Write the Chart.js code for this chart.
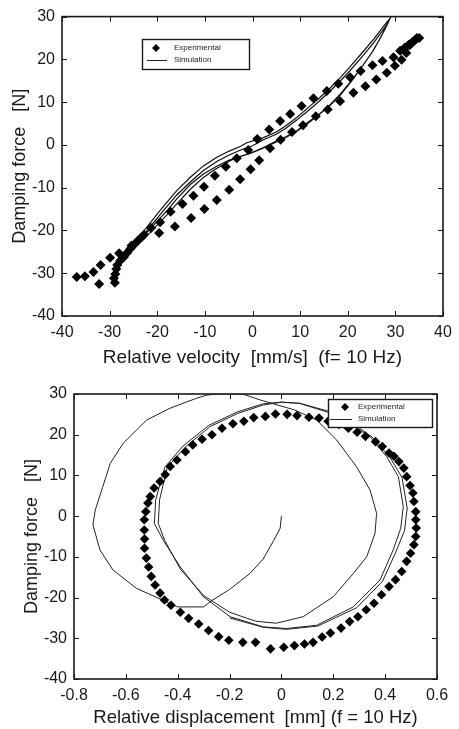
<!DOCTYPE html>
<html><head><meta charset="utf-8">
<script src="https://cdn.jsdelivr.net/npm/chart.js@4.4.1/dist/chart.umd.min.js"></script>
<style>
html,body{margin:0;padding:0;background:#fff;width:459px;height:729px;overflow:hidden}
#c1{position:absolute;left:0;top:0;width:459px;height:380px}
#c2{position:absolute;left:0;top:365px;width:459px;height:364px}
</style></head><body>
<canvas id="c1" width="459" height="380"></canvas>
<canvas id="c2" width="459" height="364"></canvas>
<script>
// ---------- Chart 1: force vs velocity ----------
const velTicks = [-40,-30,-20,-10,0,10,20,30,40];
const force1Ticks = [-40,-30,-20,-10,0,10,20,30];
const expVel = [-36.9,-35.2,-33.4,-31.9,-29.9,-28.0,-25.4,-23.3,-19.6,-16.3,-12.9,-10.1,-7.5,-4.9,-2.6,-0.4,1.4,3.7,5.9,8.3,10.6,13.3,15.8,18.4,21.2,23.7,26.0,28.2,29.9,31.3,32.3,
  -19.4,-17.2,-14.7,-12.4,-10.2,-7.9,-5.6,-3.3,-0.9,1.0,3.5,5.8,7.9,10.3,12.8,15.6,18.0,20.5,22.7,25.2,27.3,29.6,31.7,33.0,33.6,34.2,34.5,
  31.0,32.0,32.8,33.5,34.2,35.0,
  -32.2,-28.9,-29.1,-28.8,-28.6,-28.4,-27.8,-27.0,-26.3,-25.6,-24.8,-24.0,-22.8,-21.3];
const expForce = [-30.9,-30.7,-29.7,-28.1,-26.4,-25.3,-23.5,-21.6,-20.6,-19.1,-17.1,-15.0,-12.9,-10.5,-8.0,-5.7,-3.6,-0.8,1.2,3.0,4.6,6.7,8.3,10.2,12.2,13.7,15.3,16.9,18.5,19.9,21.5,
  -18.1,-15.6,-13.8,-11.9,-9.8,-7.2,-5.1,-3.1,-1.2,1.4,3.6,5.6,7.2,9.1,10.9,12.6,14.3,15.8,17.3,18.6,19.6,20.5,22.3,23.3,24.0,24.6,25.0,
  22.0,22.8,23.4,24.0,24.6,25.0,
  -32.5,-32.2,-31.2,-30.2,-29.0,-28.1,-27.1,-26.2,-25.2,-24.2,-23.2,-22.3,-21.0,-19.4];
const simVel = [-29.2,-28.5,-26.0,-23.3,-21.3,-19.4,-17.5,-15.9,-13.0,-10.3,-7.5,-5.0,-2.5,-1.2,2.3,5.0,7.0,9.3,12.0,14.0,16.3,18.5,20.5,23.3,25.5,27.5,28.9,
  27.3,25.5,23.3,21.0,18.5,16.3,14.0,12.0,9.3,7.0,5.0,2.3,0.0,-1.2,-3.5,-6.0,-8.0,-10.3,-13.0,-15.9,-17.8,-19.4,-21.5,-23.3,-26.0,-28.0,-29.2,
  -28.2,-26.0,-23.3,-21.3,-19.4,-17.5,-15.9,-13.0,-10.3,-7.5,-5.0,-2.5,0.0,2.3,5.0,7.0,9.3,12.0,14.0,16.3,18.5,20.5,23.3,25.5,27.5,28.6,
  27.0,25.2,23.0,20.8,18.4,16.1,13.8,11.8,9.1,6.8,4.8,2.1,-0.2,-2.5,-5.0,-7.5,-10.3,-13.0,-15.9,-17.8,-19.4,-21.5,-23.3,-26.0,-28.0,-29.0];
const simForce = [-31.6,-27.0,-23.8,-20.8,-18.0,-15.3,-12.8,-10.7,-7.5,-4.9,-2.9,-1.5,-0.3,0.5,1.7,3.0,4.5,6.4,9.0,10.9,13.3,15.8,18.3,21.9,24.8,27.7,29.6,
  26.0,22.3,18.8,15.3,12.0,9.4,7.2,5.6,3.3,1.9,0.9,-0.6,-1.7,-2.2,-3.0,-4.5,-5.8,-7.6,-10.3,-13.8,-16.2,-18.0,-20.5,-22.5,-25.5,-28.3,-31.6,
  -28.0,-24.5,-21.6,-18.9,-16.3,-13.8,-11.7,-8.6,-6.0,-3.9,-2.4,-1.2,-0.2,1.2,2.5,3.9,5.8,8.3,10.2,12.6,15.0,17.4,21.0,24.0,27.0,28.8,
  25.3,21.8,18.3,14.9,11.6,9.0,6.9,5.2,3.0,1.6,0.6,-0.8,-1.9,-2.7,-3.6,-5.0,-6.8,-9.2,-12.6,-15.2,-17.1,-19.7,-21.8,-24.8,-27.6,-31.0];

// ---------- Chart 2: force vs displacement ----------
const dispTicks = [-0.8,-0.6,-0.4,-0.2,0,0.2,0.4,0.6];
const force2Ticks = [-40,-30,-20,-10,0,10,20,30];
const expDisp = [-0.023,-0.062,-0.107,-0.145,-0.187,-0.229,-0.268,-0.306,-0.342,-0.370,-0.403,-0.429,-0.448,-0.468,-0.491,-0.506,-0.515,-0.523,-0.529,-0.529,-0.528,-0.528,-0.521,-0.512,-0.502,-0.487,-0.468,-0.451,-0.426,-0.390,-0.358,-0.319,-0.281,-0.242,-0.203,-0.149,-0.100,-0.042,0.009,0.050,0.089,0.122,0.157,0.189,0.230,0.263,0.295,0.327,0.357,0.386,0.415,0.440,0.464,0.483,0.498,0.511,0.518,0.520,0.518,0.518,0.511,0.507,0.496,0.483,0.472,0.453,0.434,0.415,0.389,0.363,0.324,0.292,0.258,0.222,0.180,0.145,0.106,0.060,0.022];
const expForce2 = [25.1,24.5,24.2,23.3,22.7,21.6,20.0,18.9,17.5,15.8,13.8,12.2,10.2,8.5,6.9,4.8,3.2,1.1,-0.9,-3.4,-5.6,-7.9,-10.3,-12.5,-14.8,-16.9,-18.9,-20.6,-21.9,-23.6,-25.1,-26.5,-28.1,-29.6,-30.5,-31.0,-31.0,-32.6,-32.2,-31.8,-31.4,-31.0,-29.7,-28.7,-27.5,-25.9,-24.7,-23.0,-21.4,-19.3,-17.3,-15.6,-13.6,-11.1,-9.1,-7.0,-5.0,-2.9,-0.9,1.1,3.6,5.7,7.5,9.7,11.8,13.4,14.7,15.5,17.1,18.3,19.6,20.6,21.6,22.5,23.3,24.1,24.3,24.7,25.0];
const simDisp = [0.0,-0.005,-0.03,-0.07,-0.12,-0.20,-0.27,-0.30,-0.40,-0.46,-0.56,-0.65,-0.70,-0.727,-0.718,-0.69,-0.66,-0.61,-0.52,-0.43,-0.33,-0.29,-0.25,-0.15,-0.08,0.05,0.136,0.213,0.29,0.342,0.367,0.361,0.329,0.277,0.20,0.084,-0.02,
  -0.10,-0.20,-0.30,-0.39,-0.45,-0.475,-0.47,-0.44,-0.37,-0.275,-0.17,-0.07,0.0,0.07,0.175,0.264,0.342,0.406,0.451,0.47,0.46,0.431,0.38,0.277,0.136,0.02,-0.07,
  -0.198,-0.301,-0.391,-0.456,-0.49,-0.485,-0.45,-0.38,-0.28,-0.17,-0.07,0.0,0.072,0.18,0.275,0.355,0.42,0.465,0.485,0.475,0.44,0.39,0.29,0.14,0.02,-0.07,-0.20];
const simForce2 = [0.0,-3.0,-6.0,-10.5,-14.0,-18.0,-20.8,-22.3,-22.3,-20.6,-17.7,-13.2,-8.3,-2.1,1.5,7.0,13.0,17.9,23.6,26.5,28.9,29.7,30.0,30.0,28.5,26.1,23.6,18.7,12.1,6.4,0.7,-4.2,-10.0,-14.1,-19.8,-24.7,-26.3,
  -25.8,-23.6,-19.5,-13.0,-6.0,-1.8,4.0,12.0,17.0,22.0,25.2,27.3,28.0,27.7,25.6,22.8,19.5,14.6,9.7,2.3,-3.0,-8.3,-15.7,-22.3,-26.8,-27.6,-27.2,
  -24.7,-19.8,-12.4,-5.9,-1.8,4.0,12.0,17.2,22.3,25.6,27.6,28.0,27.7,25.8,22.8,19.2,14.3,9.5,2.0,-3.5,-9.0,-16.0,-22.5,-27.0,-27.8,-27.3,-25.0];

const zip = (xs, ys) => xs.map((v, i) => ({x: v, y: ys[i]}));
const FONT = "'Liberation Sans', Arial, sans-serif";
const INK = '#1a1a1a';

const frameTicks = {
  id: 'frameTicks',
  afterDatasetsDraw(chart, args, o) {
    const {ctx, chartArea: a, scales: {x, y}} = chart;
    ctx.save();
    ctx.strokeStyle = INK;
    ctx.lineWidth = 1;
    ctx.beginPath();
    x.ticks.forEach(t => {
      const p = Math.round(x.getPixelForValue(t.value)) + 0.5;
      ctx.moveTo(p, a.bottom); ctx.lineTo(p, a.bottom - o.len);
      ctx.moveTo(p, a.top); ctx.lineTo(p, a.top + o.len);
    });
    y.ticks.forEach(t => {
      const p = Math.round(y.getPixelForValue(t.value)) + 0.5;
      ctx.moveTo(a.left, p); ctx.lineTo(a.left + o.len, p);
      ctx.moveTo(a.right, p); ctx.lineTo(a.right - o.len, p);
    });
    ctx.stroke();
    ctx.lineWidth = 1.6;
    ctx.strokeRect(a.left, a.top, a.right - a.left, a.bottom - a.top);
    ctx.restore();
  }
};

const boxLegend = {
  id: 'boxLegend',
  afterDatasetsDraw(chart, args, o) {
    const ctx = chart.ctx, ds = chart.data.datasets;
    ctx.save();
    ctx.fillStyle = '#fff';
    ctx.fillRect(o.x, o.y, o.w, o.h);
    ctx.strokeStyle = INK; ctx.lineWidth = 1.4;
    ctx.strokeRect(o.x + 0.5, o.y + 0.5, o.w, o.h);
    const dx = o.markX, dy = o.row1, r = 4;
    ctx.fillStyle = '#000';
    ctx.beginPath();
    ctx.moveTo(dx, dy - r); ctx.lineTo(dx + r, dy); ctx.lineTo(dx, dy + r); ctx.lineTo(dx - r, dy); ctx.closePath();
    ctx.fill();
    ctx.strokeStyle = '#222'; ctx.lineWidth = 1;
    ctx.beginPath(); ctx.moveTo(o.lineX0, o.row2 + 0.5); ctx.lineTo(o.lineX1, o.row2 + 0.5); ctx.stroke();
    ctx.fillStyle = '#222';
    ctx.font = '8px ' + FONT;
    ctx.textBaseline = 'middle';
    ctx.fillText(ds[0].label, o.textX, o.row1);
    ctx.fillText(ds[1].label, o.textX, o.row2);
    ctx.restore();
  }
};

function makeChart(id, cfg) {
  const tickFont = {family: FONT, size: 16};
  return new Chart(document.getElementById(id), {
    type: 'scatter',
    data: {
      datasets: [
        {label: 'Experimental', data: cfg.exp, backgroundColor: '#000', borderColor: '#000',
         pointStyle: 'rectRot', pointRadius: cfg.markR, pointBorderWidth: 0, showLine: false, order: 1},
        {label: 'Simulation', data: cfg.sim, borderColor: cfg.lineColor, borderWidth: cfg.lineW, pointRadius: 0,
         showLine: true, tension: 0, fill: false, order: 2}
      ]
    },
    options: {
      responsive: false, animation: false,
      layout: {padding: cfg.padding},
      plugins: {legend: {display: false}, tooltip: {enabled: false},
        frameTicks: {len: 5}, boxLegend: cfg.legend},
      scales: {
        x: {type: 'linear', min: cfg.xTicks[0], max: cfg.xTicks[cfg.xTicks.length - 1],
          grid: {display: false, drawTicks: false}, border: {display: false},
          afterBuildTicks: s => { s.ticks = cfg.xTicks.map(v => ({value: v})); },
          afterFit: s => { s.height = cfg.xHeight; },
          ticks: {font: tickFont, color: INK, padding: 7, maxRotation: 0, autoSkip: false,
            callback: v => String(Number(v.toFixed(1)))},
          title: {display: true, text: cfg.xTitle, color: INK,
            font: {family: FONT, size: cfg.xTitleSize}, padding: {top: 0, bottom: cfg.xTitlePad}}},
        y: {type: 'linear', min: cfg.yTicks[0], max: cfg.yTicks[cfg.yTicks.length - 1],
          grid: {display: false, drawTicks: false}, border: {display: false},
          afterBuildTicks: s => { s.ticks = cfg.yTicks.map(v => ({value: v})); },
          afterFit: s => { s.width = cfg.yWidth; },
          ticks: {font: tickFont, color: INK, padding: 7, autoSkip: false},
          title: {display: true, text: 'Damping force   [N]', color: INK,
            font: {family: FONT, size: 18}, padding: {top: cfg.yTitlePad, bottom: 0}}}
      }
    },
    plugins: [frameTicks, boxLegend]
  });
}

makeChart('c1', {
  exp: zip(expVel, expForce), sim: zip(simVel, simForce),
  xTicks: velTicks, yTicks: force1Ticks,
  padding: {left: 0, right: 16, top: 15, bottom: 0},
  xHeight: 64, yWidth: 62, markR: 5, lineColor: '#111', lineW: 1.2,
  xTitle: 'Relative velocity  [mm/s]  (f= 10 Hz)', xTitleSize: 19, xTitlePad: 11, yTitlePad: 9,
  legend: {x: 142, y: 39, w: 107, h: 30, markX: 156, row1: 48, row2: 60, lineX0: 147, lineX1: 167, textX: 174}
});

makeChart('c2', {
  exp: zip(expDisp, expForce2), sim: zip(simDisp, simForce2),
  xTicks: dispTicks, yTicks: force2Ticks,
  padding: {left: 0, right: 22, top: 29, bottom: 0},
  xHeight: 50, yWidth: 74, markR: 4.8, lineColor: '#222', lineW: 1,
  xTitle: 'Relative displacement  [mm] (f = 10 Hz)', xTitleSize: 18.5, xTitlePad: 0, yTitlePad: 21,
  legend: {x: 328, y: 34, w: 104, h: 28, markX: 345, row1: 42, row2: 54, lineX0: 330, lineX1: 352, textX: 358}
});
</script>
</body></html>
